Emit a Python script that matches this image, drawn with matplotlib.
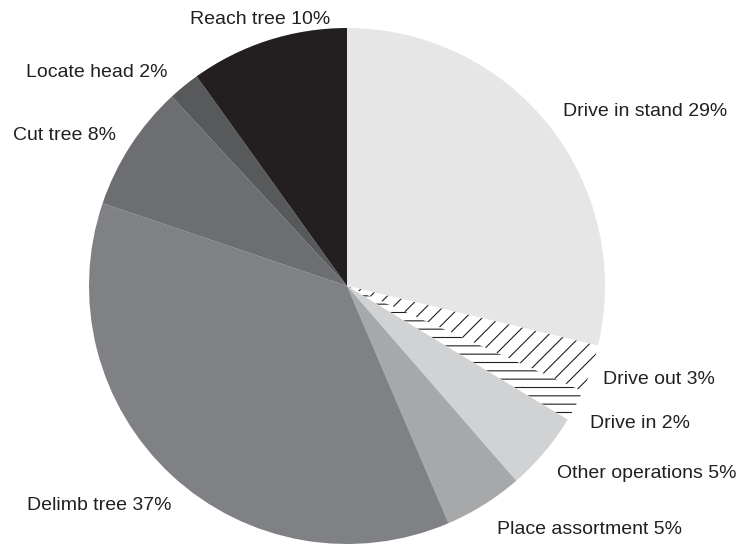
import matplotlib
matplotlib.use("Agg")
import matplotlib.pyplot as plt

# Share of time per work element (percent), clockwise from 12 o'clock
categories = ["Drive in stand", "Drive out", "Drive in", "Other operations",
              "Place assortment", "Delimb tree", "Cut tree", "Locate head",
              "Reach tree"]
shares = [29, 3, 2, 5, 5, 37, 8, 2, 10]

colors = ["#e6e6e7", "white", "white", "#d1d2d3", "#a7a8aa",
          "#808184", "#6d6e71", "#58595b", "#231f20"]
hatches = [None, "//", "--", None, None, None, None, None, None]

# Label anchors in figure pixels (left edge, vertical centre)
label_px = [(563, 112), (603, 379), (590, 423), (557, 473), (497, 529),
            (27, 505), (13, 135), (26, 72), (190, 20)]

W, H = 743, 548
CX, CY, R = 347, 286, 258

plt.rcParams["font.family"] = ["Liberation Sans", "DejaVu Sans"]
plt.rcParams["hatch.linewidth"] = 0.8

fig = plt.figure(figsize=(W / 100, H / 100), dpi=100)
ax = fig.add_axes([0, 0, 1, 1])

wedges, _ = ax.pie(shares, colors=colors, startangle=90, counterclock=False,
                   radius=1.0, wedgeprops=dict(linewidth=0))
for w, h in zip(wedges, hatches):
    if h:
        w.set_hatch(h)
        w.set_edgecolor("#231f20")
        w.set_linewidth(0)

ax.set_xlim(-CX / R, (W - CX) / R)
ax.set_ylim((CY - H) / R, CY / R)
ax.set_aspect("equal")
ax.axis("off")

for name, val, (px, py) in zip(categories, shares, label_px):
    fig.text(px / W, 1 - py / H, f"{name} {val}%", ha="left", va="center",
             fontsize=14, color="#231f20")

fig.savefig("out.png", dpi=100, facecolor="white")
